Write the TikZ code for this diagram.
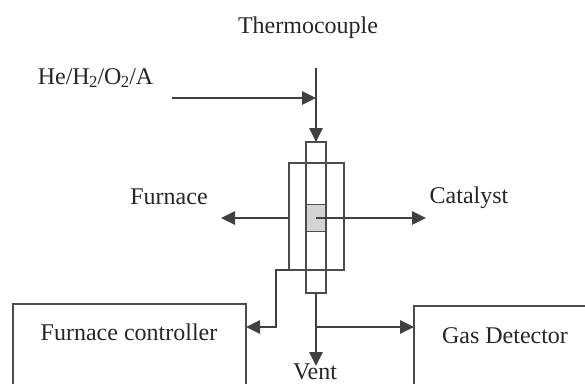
\documentclass[tikz,border=0pt]{standalone}
\usepackage{fontspec}
\setmainfont{Liberation Serif}
\usepackage{tikz}
\usetikzlibrary{arrows.meta, positioning, calc}

\begin{document}
\begin{tikzpicture}[x=0.75pt, y=-0.75pt, line width=1.2pt, draw=black!70,
    flow/.style={draw=black!75, -{Triangle[length=10.5pt, width=10pt]}},
    vessel/.style={rectangle, draw=black!70, inner sep=0pt, outer sep=0pt},
    lbl/.style={inner sep=0pt, font=\fontsize{18}{21}\selectfont, text=black!85}]
    \useasboundingbox (0,0) rectangle (585,383);
    \clip (0,0) rectangle (585,383);

    \node[vessel, minimum width=41.25pt, minimum height=80.25pt] (furnace) at (316.5,216.5) {};
    \node[vessel, minimum width=15pt, minimum height=113.25pt] (tube) at (316,217.5) {};
    \node[vessel, fill=black!17, minimum width=15pt, minimum height=20.25pt] (catalyst) at (316,218) {};
    \node[vessel, minimum width=174.75pt, minimum height=105pt] (controller) at (129.5,374) {};
    \node[vessel, minimum width=225pt, minimum height=105pt] (detector) at (564,376) {};

    \node[lbl] (thermo) at (308,28) {Thermocouple};
    \node[lbl, anchor=west] (gases) at (37,78) {He/H\kern-.5pt\textsubscript{2}\kern-.5pt/O\kern-.5pt\textsubscript{2}\kern-.5pt/A};
    \node[lbl] (furnacetext) at (169,197) {Furnace};
    \node[lbl] (catalysttext) at (469,198) {Catalyst};
    \node[lbl] (controllertext) at (129,332) {Furnace controller};
    \node[lbl] (detectortext) at (505,336) {Gas Detector};
    \node[lbl] (vent) at (315,372) {Vent};

    \coordinate (probe) at (316,68);
    \coordinate (inlet) at (172,98);
    \coordinate (furnaceend) at (221,218);
    \coordinate (catalystend) at (426,218);
    \coordinate (ventend) at (316,366);
    \coordinate (split) at (316,327);

    \draw[flow] (probe) -- (tube.north);
    \draw[flow] (inlet) -- (inlet -| tube.center);
    \draw[flow] (furnace.west |- catalyst.center) -- (furnaceend);
    \draw[flow] (catalyst.center) -- (catalystend);
    \draw[flow] (furnace.south west) -- ++(-13,0) |- (controller.east |- split);
    \draw[flow] (tube.south) -- (ventend);
    \draw[flow] (split) -- (detector.west |- split);
\end{tikzpicture}
\end{document}
